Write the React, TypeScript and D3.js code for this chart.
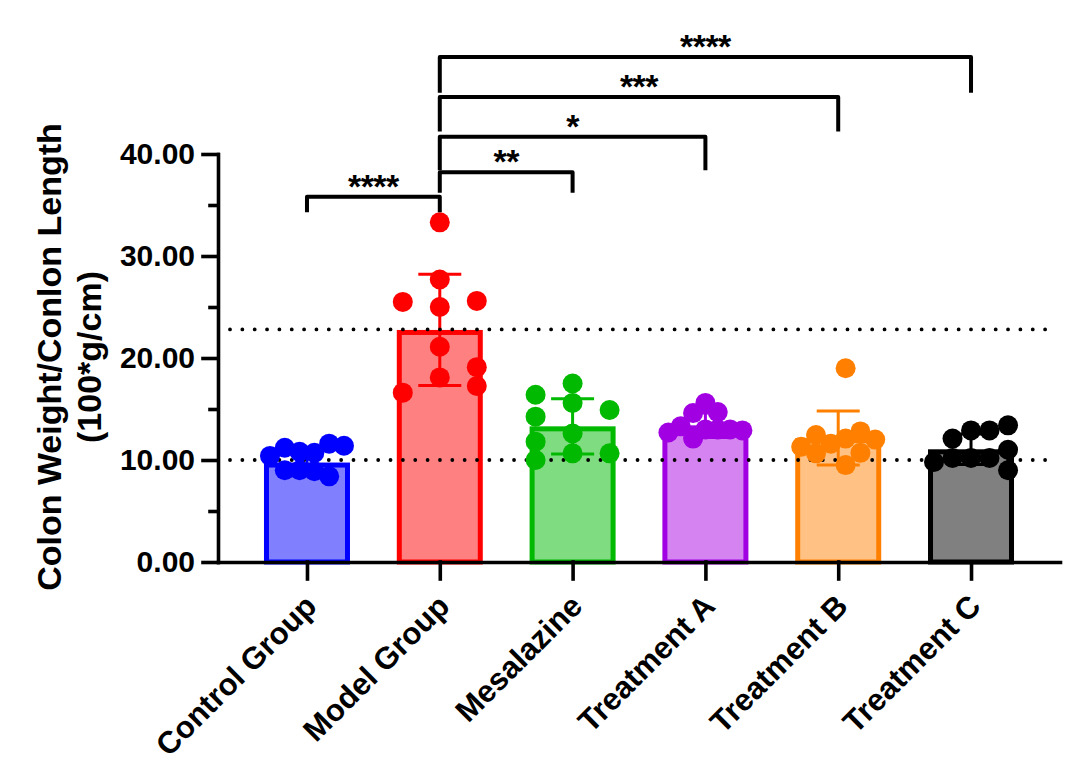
import React, { useEffect, useRef } from 'react';
import * as d3 from 'd3';

// groups shown on the x axis
const categories = ["Control Group", "Model Group", "Mesalazine", "Treatment A", "Treatment B", "Treatment C"];

// individual animals per group (order matters for the swarm layout)
const controlValues = [8.9, 9.0, 9.0, 8.4, 10.7, 10.8, 11.2, 11.6, 11.4, 10.4];
const modelValues = [33.3, 27.7, 25.0, 21.1, 18.1, 25.6, 25.5, 19.1, 17.25, 16.6];
const mesalazineValues = [17.5, 15.6, 14.9, 16.4, 14.25, 10.65, 10.65, 11.8, 10.0, 12.6];
const treatmentAValues = [13.0, 12.1, 15.6, 14.6, 14.7, 13.0, 13.0, 13.3, 12.9, 12.7];
const treatmentBValues = [19.0, 12.1, 11.6, 12.45, 12.8, 12.0, 11.3, 10.65, 10.7, 9.5];
const treatmentCValues = [12.9, 10.2, 12.9, 10.2, 12.1, 10.2, 13.4, 11.0, 9.0, 9.8];

// bar height (mean) and error bar (SD)
const groupMeans = [9.75, 22.75, 13.3, 13.4, 12.15, 11.05];
const groupSDs = [1.2, 5.45, 2.7, 1.2, 2.65, 1.5];

// dotted reference lines (model mean, control level)
const refLines = [22.8, 10];

const yTicks = [0, 10, 20, 30, 40];
const yMinorTicks = [5, 15, 25, 35];

// significance brackets: level = height of the bar, drop = length of the legs (data units)
const comparisons = [
  { from: "Control Group", to: "Model Group", label: "****", level: 35.8, drop: 1.5 },
  { from: "Model Group", to: "Mesalazine", label: "**", level: 38.2, drop: 2.0 },
  { from: "Model Group", to: "Treatment A", label: "*", level: 41.7, drop: 3.3 },
  { from: "Model Group", to: "Treatment B", label: "***", level: 45.6, drop: 3.4 },
  { from: "Model Group", to: "Treatment C", label: "****", level: 49.5, drop: 3.5 },
];

const groupValues = [controlValues, modelValues, mesalazineValues, treatmentAValues, treatmentBValues, treatmentCValues];

// styling
const strokeColors = ["#0000FF", "#FF0000", "#00B900", "#A100E3", "#FF8000", "#000000"];
const fillColors = ["#8080FF", "#FF8080", "#80DC80", "#D583F1", "#FFC284", "#808080"];
const swarmLanes = [6, 3, 3, 7, 6, 5];
const FONT = "'Liberation Sans', Arial, Helvetica, sans-serif";

// greedy swarm: put each point in the lane closest to the centre where it does not collide
function swarmOffsets(values: number[], y: d3.ScaleLinear<number, number>, lanes: number, halfWidth: number, minGap: number) {
  const slots = lanes === 1 ? [0] : d3.range(lanes).map(k => -halfWidth + (k * 2 * halfWidth) / (lanes - 1));
  const order = slots.map((_, i) => i).sort((a, b) => Math.abs(slots[a]) - Math.abs(slots[b]) || slots[b] - slots[a]);
  const taken: number[][] = slots.map(() => []);
  return values.map(v => {
    const py = y(v);
    let pick = order.find(i => taken[i].every(q => Math.abs(q - py) >= minGap - 1e-6));
    if (pick === undefined) {
      pick = d3.greatest(order, i => d3.min(taken[i], q => Math.abs(q - py)) ?? Infinity) as number;
    }
    taken[pick].push(py);
    return slots[pick];
  });
}

const App: React.FC = () => {
  const svgRef = useRef<SVGSVGElement>(null);

  useEffect(() => {
    if (!svgRef.current) return;
    const svg = d3.select(svgRef.current);
    svg.selectAll("*").remove();

    const x = d3.scalePoint<string>().domain(categories).range([218, 1060]).padding(0.67);
    const y = d3.scaleLinear().domain([0, 40]).range([562, 154]);

    const barOuter = 86;
    const barStroke = 5;
    const dotR = 10;

    // bars (border drawn inside the bar outline)
    svg.append("g")
      .selectAll("rect")
      .data(categories)
      .join("rect")
      .attr("x", d => (x(d) as number) - barOuter / 2 + barStroke / 2)
      .attr("y", (_, i) => y(groupMeans[i]) + barStroke / 2)
      .attr("width", barOuter - barStroke)
      .attr("height", (_, i) => y(0) - y(groupMeans[i]) - barStroke / 2)
      .attr("fill", (_, i) => fillColors[i])
      .attr("stroke", (_, i) => strokeColors[i])
      .attr("stroke-width", barStroke);

    // error bars (mean ± SD)
    const err = svg.append("g").attr("stroke-width", 3).attr("fill", "none");
    categories.forEach((c, i) => {
      const cx = x(c) as number;
      const top = y(groupMeans[i] + groupSDs[i]);
      const bot = y(groupMeans[i] - groupSDs[i]);
      err.append("path")
        .attr("stroke", strokeColors[i])
        .attr("d", `M${cx},${top}V${bot}M${cx - 21.5},${top}H${cx + 21.5}M${cx - 21.5},${bot}H${cx + 21.5}`);
    });

    // dotted reference lines
    svg.append("g")
      .selectAll("line")
      .data(refLines)
      .join("line")
      .attr("x1", 230)
      .attr("x2", 1055)
      .attr("y1", d => y(d))
      .attr("y2", d => y(d))
      .attr("stroke", "#000")
      .attr("stroke-width", 3.8)
      .attr("stroke-linecap", "round")
      .attr("stroke-dasharray", "0 12.35");

    // individual points
    const dots = svg.append("g");
    groupValues.forEach((vals, i) => {
      const cx = x(categories[i]) as number;
      const offs = swarmOffsets(vals, y, swarmLanes[i], 37, 17);
      dots.append("g")
        .selectAll("circle")
        .data(vals)
        .join("circle")
        .attr("cx", (_, j) => cx + offs[j])
        .attr("cy", d => y(d))
        .attr("r", dotR)
        .attr("fill", strokeColors[i]);
    });

    // y axis
    const yAxis = svg.append("g")
      .attr("transform", "translate(218,0)")
      .call(d3.axisLeft(y).tickValues(yTicks).tickSize(15).tickSizeOuter(0).tickPadding(8).tickFormat(d3.format(".2f")));
    yAxis.selectAll("text")
      .attr("font-size", 30)
      .attr("font-weight", "bold")
      .attr("font-family", FONT)
      .attr("fill", "#000");

    svg.append("g")
      .attr("transform", "translate(218,0)")
      .call(d3.axisLeft(y).tickValues(yMinorTicks).tickSize(8).tickFormat(() => ""))
      .call(g => g.select(".domain").remove());

    // x axis
    const xAxis = svg.append("g")
      .attr("transform", `translate(0,${y(0)})`)
      .call(d3.axisBottom(x).tickSize(17).tickSizeOuter(0));
    xAxis.selectAll("text")
      .attr("x", 0)
      .attr("y", 0)
      .attr("dy", "0")
      .attr("transform", "translate(11,46) rotate(-45)")
      .style("text-anchor", "end")
      .attr("font-size", 31)
      .attr("font-weight", "bold")
      .attr("font-family", FONT)
      .attr("fill", "#000");

    svg.selectAll(".domain, .tick line")
      .attr("stroke", "#000")
      .attr("stroke-width", 3.6)
      .attr("stroke-linecap", "square");

    // y axis title
    const title = svg.append("g")
      .attr("transform", "translate(61,357) rotate(-90)")
      .attr("font-family", FONT)
      .attr("font-weight", "bold")
      .attr("font-size", 34)
      .attr("text-anchor", "middle");
    title.append("text").attr("y", 0).text("Colon Weight/Conlon Length");
    title.append("text").attr("y", 40).text("(100*g/cm)");

    // significance brackets
    const br = svg.append("g");
    comparisons.forEach(c => {
      const x1 = x(c.from) as number;
      const x2 = x(c.to) as number;
      const yl = y(c.level);
      const yd = y(c.level - c.drop);
      br.append("path")
        .attr("d", `M${x1},${yd}V${yl}H${x2}V${yd}`)
        .attr("fill", "none")
        .attr("stroke", "#000")
        .attr("stroke-width", 4)
        .attr("stroke-linejoin", "round");
      br.append("text")
        .attr("x", (x1 + x2) / 2)
        .attr("y", yl + 1)
        .attr("text-anchor", "middle")
        .attr("font-family", FONT)
        .attr("font-weight", "bold")
        .attr("font-size", 34)
        .attr("letter-spacing", -0.5)
        .text(c.label);
    });
  }, []);

  return (
    <svg
      ref={svgRef}
      width={1080}
      height={783}
      style={{ position: "absolute", left: 0, top: 0, background: "#fff" }}
    />
  );
};

export default App;
